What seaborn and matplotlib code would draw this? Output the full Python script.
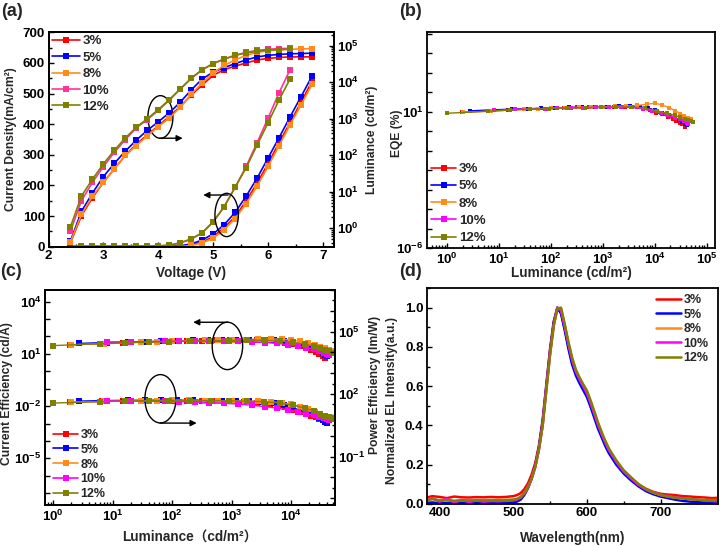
import numpy as np
import matplotlib
matplotlib.use('Agg')
import matplotlib.pyplot as plt
import seaborn as sns
from matplotlib.patches import Ellipse
from matplotlib.lines import Line2D
from matplotlib.ticker import FixedLocator, MultipleLocator, FuncFormatter, LogLocator, NullFormatter, FormatStrFormatter

sns.set_theme(style='ticks')
plt.rcParams['font.family'] = ['Liberation Sans', 'Noto Sans CJK SC', 'DejaVu Sans']
plt.rcParams['font.weight'] = 'bold'
plt.rcParams['axes.labelweight'] = 'bold'
plt.rcParams['mathtext.fontset'] = 'custom'
plt.rcParams['mathtext.rm'] = 'Liberation Sans:bold'
plt.rcParams['mathtext.it'] = 'Liberation Sans:bold'
plt.rcParams['mathtext.bf'] = 'Liberation Sans:bold'
plt.rcParams['mathtext.default'] = 'rm'

# ---------------- data ----------------
dopants = ['3%', '5%', '8%', '10%', '12%']
colors_a = ['#FF0000', '#0000FF', '#FF8C1A', '#FF3399', '#808000']
colors_b = ['#FF0000', '#0000FF', '#FF8C1A', '#FF00FF', '#808000']

volt_long = [2.4, 2.6, 2.8, 3.0, 3.2, 3.4, 3.6, 3.8, 4.0, 4.2, 4.4, 4.6, 4.8, 5.0, 5.2, 5.4, 5.6, 5.8, 6.0, 6.2, 6.4, 6.6, 6.8]
volt_short = [2.4, 2.6, 2.8, 3.0, 3.2, 3.4, 3.6, 3.8, 4.0, 4.2, 4.4, 4.6, 4.8, 5.0, 5.2, 5.4, 5.6, 5.8, 6.0, 6.2, 6.4]

J_3 = [0, 0, 0, 0, 0, 0, 0, 0, 0.5, 1, 2, 6, 15, 33, 62, 98, 150, 208, 272, 340, 405, 472, 540]
J_5 = [0, 0, 0, 0, 0, 0, 0, 0.5, 1, 1.5, 3, 9, 22, 42, 72, 112, 165, 224, 290, 356, 424, 490, 557]
J_8 = [0, 0, 0, 0, 0, 0, 0, 0, 0, 0.5, 1, 4, 12, 28, 55, 92, 140, 198, 262, 330, 398, 463, 530]
J_10 = [1, 1, 1, 1, 1, 1, 1.5, 1.5, 2, 5, 12, 25, 45, 80, 131, 194, 262, 340, 420, 503, 578]
J_12 = [2, 2, 2, 2, 2, 2.5, 2.5, 3, 3, 5, 13, 25, 46, 82, 131, 194, 258, 332, 405, 479, 548]

L_3 = [0.4, 2.2, 6.9, 18, 43, 99, 202, 361, 644, 1150, 2170, 4440, 8390, 15600, 22000, 27700, 33600, 40800, 44900, 47600, 49400, 49400, 49400]
L_5 = [0.45, 2.9, 9.2, 26, 60, 130, 260, 482, 828, 1450, 2850, 6150, 12300, 18900, 25200, 32400, 40800, 49400, 54400, 57700, 60000, 61100, 62300]
L_8 = [0.42, 2.4, 7.6, 18, 43, 99, 184, 340, 608, 1040, 2050, 4700, 9600, 18200, 28800, 40800, 54400, 66000, 72700, 77000, 80000, 81600, 83200]
L_10 = [0.83, 5.7, 18, 49, 120, 270, 563, 947, 1690, 3200, 6530, 12800, 22000, 32400, 43200, 54400, 66000, 74100, 80000, 83200, 84800]
L_12 = [1.1, 7.6, 22, 58, 137, 298, 585, 1000, 1790, 3320, 6530, 12800, 22000, 32400, 43200, 54400, 63500, 70000, 75500, 78500, 80000]

# luminance points for efficiency curves (panels b, c)
lum_3 = [1.9, 6.5, 15, 30, 55, 100, 180, 320, 550, 950, 1600, 2700, 4500, 6000, 8000, 10500, 14000, 18000, 22000, 26000, 30000, 34000, 38000]
lum_5 = [2.7, 8, 18, 35, 65, 120, 220, 400, 700, 1200, 2000, 3300, 5200, 7500, 10000, 14000, 19000, 24000, 29000, 34000, 38000, 41000]
lum_8 = [2.0, 7, 16, 30, 55, 100, 190, 350, 600, 1000, 1700, 2800, 4600, 7000, 10000, 14000, 19000, 25000, 31000, 37000, 43000, 50000]
lum_10 = [8, 20, 40, 75, 130, 240, 420, 750, 1300, 2200, 3600, 5800, 9000, 13000, 18000, 24000, 30000, 36000, 41000, 44000]
lum_12 = [1.0, 6, 16, 40, 90, 200, 450, 900, 1800, 3500, 6500, 11000, 17000, 24000, 31000, 38000, 44000, 50000, 54000]

EQE_3 = [9.3, 11, 12.5, 13.5, 14.5, 15.5, 16, 16.5, 17, 17.5, 18, 18, 17, 14, 11.5, 9, 7.2, 5.5, 4.3, 3.4, 2.7, 2.2, 1.7]
EQE_5 = [11, 12.5, 13.5, 14, 15, 15.5, 16.5, 17, 17.5, 18, 18.5, 18.5, 17.5, 15, 12, 9, 6.8, 5, 3.8, 3, 2.4, 2.1]
EQE_8 = [9.5, 10.5, 12, 13, 14, 15, 16, 16.5, 17, 17.5, 18.5, 19.5, 21, 24, 27, 22, 16, 11, 8, 6, 4.8, 4.0]
EQE_10 = [11.5, 13, 13.5, 14.5, 15, 15.5, 16, 16.5, 17, 17, 16.5, 14, 11, 8.5, 6.5, 5, 4, 3.2, 2.7, 2.4]
EQE_12 = [8.3, 10.5, 12, 13.5, 14.5, 15.5, 16, 16.5, 17, 17.5, 15, 11, 8.3, 6.5, 5.2, 4.3, 3.6, 3.2, 3.0]

CE_3 = [33, 39, 44, 48, 51, 54, 56, 58, 60, 61, 62, 62, 59, 52, 44, 36, 28, 22, 17, 13, 10, 7.8, 6]
CE_5 = [40, 45, 49, 50, 54, 56, 59, 61, 63, 65, 66, 66, 63, 54, 43, 32, 24, 18, 14, 11, 8.6, 7.5]
CE_8 = [34, 38, 43, 47, 50, 54, 58, 59, 61, 63, 66, 70, 72, 70, 62, 52, 42, 33, 26, 21, 17, 14]
CE_10 = [48, 49, 50, 52, 53, 54, 55, 54, 52, 49, 45, 40, 34, 28, 23, 19, 15, 12, 10, 9]
CE_12 = [30, 38, 43, 48, 51, 54, 56, 58, 60, 61, 56, 46, 36, 28, 22, 17, 14, 12, 11]

PE_3 = [40, 45, 48, 49, 49, 49, 48, 47, 46, 44, 42, 39, 35, 28, 23, 18, 14, 11, 9, 7.5, 6.2, 5.4, 4.8]
PE_5 = [46, 49, 50, 50, 51, 50, 50, 49, 48, 47, 45, 42, 38, 31, 24, 17, 12.5, 9.5, 7.2, 5.6, 4.5, 4.0]
PE_8 = [41, 44, 47, 48, 49, 50, 50, 49, 48, 47, 46, 45, 42, 38, 32, 25, 19, 14, 11, 8.5, 7, 6]
PE_10 = [48, 47, 46, 45, 43, 41, 39, 36, 33, 29, 25, 21, 17, 14, 11.5, 9.5, 8, 7, 6.3, 5.9]
PE_12 = [37, 43, 46, 48, 49, 49, 48, 47, 45, 43, 37, 29, 21, 15.5, 11.5, 9, 7.8, 7, 6.6]

wavelength = [380, 390, 400, 410, 420, 430, 440, 450, 460, 470, 480, 490, 500,
              505, 510, 515, 520, 525, 530, 535, 540, 545, 550, 555, 560, 565, 570, 575, 580,
              585, 590, 595, 600, 605, 610, 615, 620, 625, 630,
              640, 650, 660, 670, 680, 690, 700, 710, 720, 730, 740, 750, 760, 770, 780]
EL_3 = [0.030, 0.040, 0.036, 0.030, 0.038, 0.034, 0.033, 0.035, 0.034, 0.036, 0.034, 0.036, 0.040,
        0.045, 0.055, 0.075, 0.105, 0.150, 0.210, 0.300, 0.430, 0.610, 0.790, 0.930, 1.000, 0.970, 0.890, 0.800, 0.720,
        0.665, 0.625, 0.590, 0.555, 0.505, 0.450, 0.395, 0.350, 0.305, 0.265,
        0.210, 0.165, 0.130, 0.100, 0.078, 0.062, 0.052, 0.048, 0.045, 0.040, 0.038, 0.035, 0.033, 0.030, 0.032]
EL_5 = [0.005, 0.008, 0.004, 0.006, 0.005, 0.007, 0.005, 0.006, 0.005, 0.006, 0.005, 0.006, 0.008,
        0.012, 0.022, 0.045, 0.080, 0.130, 0.195, 0.290, 0.420, 0.600, 0.780, 0.925, 1.000, 0.970, 0.885, 0.790, 0.710,
        0.655, 0.615, 0.580, 0.545, 0.495, 0.440, 0.385, 0.340, 0.295, 0.258,
        0.200, 0.155, 0.120, 0.090, 0.066, 0.050, 0.038, 0.030, 0.022, 0.016, 0.012, 0.010, 0.008, 0.006, 0.005]
EL_8 = [0.020, 0.028, 0.018, 0.022, 0.016, 0.020, 0.018, 0.020, 0.019, 0.020, 0.020, 0.021, 0.022,
        0.026, 0.036, 0.056, 0.086, 0.130, 0.190, 0.280, 0.400, 0.580, 0.760, 0.905, 1.000, 0.990, 0.910, 0.820, 0.740,
        0.680, 0.640, 0.605, 0.572, 0.522, 0.468, 0.412, 0.362, 0.318, 0.278,
        0.218, 0.168, 0.133, 0.100, 0.075, 0.058, 0.046, 0.038, 0.032, 0.028, 0.025, 0.022, 0.020, 0.020, 0.020]
EL_10 = [0.010, 0.030, 0.012, 0.025, 0.008, 0.020, 0.010, 0.018, 0.012, 0.015, 0.014, 0.016, 0.018,
         0.022, 0.032, 0.052, 0.082, 0.128, 0.188, 0.278, 0.400, 0.585, 0.765, 0.910, 1.000, 0.985, 0.905, 0.815, 0.735,
         0.675, 0.635, 0.600, 0.565, 0.515, 0.460, 0.405, 0.358, 0.314, 0.274,
         0.215, 0.165, 0.130, 0.098, 0.074, 0.058, 0.047, 0.040, 0.034, 0.030, 0.026, 0.022, 0.018, 0.015, 0.014]
EL_12 = [0.015, 0.025, 0.018, 0.020, 0.015, 0.020, 0.018, 0.020, 0.018, 0.020, 0.020, 0.020, 0.022,
         0.025, 0.035, 0.055, 0.085, 0.130, 0.190, 0.280, 0.400, 0.580, 0.760, 0.910, 0.995, 1.000, 0.915, 0.825, 0.745,
         0.685, 0.645, 0.610, 0.578, 0.528, 0.473, 0.417, 0.367, 0.322, 0.282,
         0.222, 0.172, 0.136, 0.102, 0.076, 0.058, 0.046, 0.039, 0.033, 0.028, 0.025, 0.022, 0.020, 0.020, 0.020]

volts = [volt_long, volt_long, volt_long, volt_short, volt_short]
J_all = [J_3, J_5, J_8, J_10, J_12]
L_all = [L_3, L_5, L_8, L_10, L_12]
lum_all = [lum_3, lum_5, lum_8, lum_10, lum_12]
EQE_all = [EQE_3, EQE_5, EQE_8, EQE_10, EQE_12]
CE_all = [CE_3, CE_5, CE_8, CE_10, CE_12]
PE_all = [PE_3, PE_5, PE_8, PE_10, PE_12]
EL_all = [EL_3, EL_5, EL_8, EL_10, EL_12]

# ---------------- layout ----------------
W, H = 720, 546
fig = plt.figure(figsize=(7.2, 5.46), dpi=100)
fig.patch.set_facecolor('white')

boxes = {'a': (48.5, 32.3, 334, 246.7), 'b': (427, 32, 715, 248),
         'c': (45, 290, 335, 505), 'd': (427, 288, 718, 504)}

def mk(key):
    l, t, r, b = boxes[key]
    return fig.add_axes([l / W, 1 - b / H, (r - l) / W, (b - t) / H])

def fx(key, x):
    l, t, r, b = boxes[key]
    return (x - l) / (r - l)

def fy(key, y):
    l, t, r, b = boxes[key]
    return (b - y) / (b - t)

TFS = 9.5
YFS = 8.7
XFS = 9.8
LW_SP = 1.3

def style(ax):
    for s in ax.spines.values():
        s.set_linewidth(LW_SP)
        s.set_color('black')
        s.set_visible(True)
    ax.tick_params(which='both', direction='in', width=1.0, labelsize=TFS, colors='black', pad=2.5)
    ax.tick_params(which='major', length=3.5)
    ax.tick_params(which='minor', length=2)
    ax.set_facecolor('white')
    ax.grid(False)

def logfmt(show):
    def f(v, pos):
        if v <= 0:
            return ''
        e = int(round(np.log10(v)))
        return r'$10^{%d}$' % e if e in show else ''
    return FuncFormatter(f)

def bold_ticks(ax):
    for lb in ax.get_xticklabels() + ax.get_yticklabels():
        lb.set_fontweight('bold')

def leg(ax, cols, anchor, fs, spacing, marker='s', ms=4, lw=1.2, hl=2.0):
    handles = [Line2D([], [], color=c, lw=lw, marker=marker, markersize=ms, markeredgewidth=0) for c in cols]
    lg = ax.legend(handles, dopants, loc='upper left', bbox_to_anchor=anchor, frameon=False,
                   handlelength=hl, handletextpad=0.2, labelspacing=spacing,
                   borderpad=0, borderaxespad=0, numpoints=1, prop={'weight': 'bold', 'size': fs})
    return lg

ARROW = dict(arrowstyle='-|>', lw=1.0, color='black', mutation_scale=9, shrinkA=0, shrinkB=0)

# ---------------- panel (a) ----------------
axa = mk('a')
axa2 = axa.twinx()
for V, J, c in zip(volts, J_all, colors_a):
    sns.lineplot(x=V, y=J, ax=axa, color=c, marker='s', markersize=4.5, markeredgewidth=0,
                 linewidth=1.2, estimator=None, sort=False, legend=False)
for V, L, c in zip(volts, L_all, colors_a):
    sns.lineplot(x=V, y=L, ax=axa2, color=c, marker='s', markersize=4.5, markeredgewidth=0,
                 linewidth=1.2, estimator=None, sort=False, legend=False)
axa.set_xlim(2, 7.2)
axa.set_ylim(0, 700)
axa2.set_yscale('log')
axa2.set_ylim(10 ** -0.504, 10 ** 5.367)
axa.xaxis.set_major_locator(MultipleLocator(1))
axa.xaxis.set_minor_locator(MultipleLocator(0.5))
axa.yaxis.set_major_locator(MultipleLocator(100))
axa.yaxis.set_minor_locator(MultipleLocator(50))
axa2.yaxis.set_major_locator(FixedLocator(10.0 ** np.arange(0, 6)))
axa2.yaxis.set_major_formatter(logfmt(set(range(0, 6))))
axa2.yaxis.set_minor_locator(LogLocator(base=10, subs=np.arange(2, 10)))
axa2.yaxis.set_minor_formatter(NullFormatter())
style(axa); style(axa2)
axa.tick_params(right=False, which='both')
axa2.tick_params(left=False, which='both')
axa.set_xlabel('Voltage (V)', fontsize=XFS, fontweight='bold')
axa.set_ylabel('Current Density(mA/cm²)', fontsize=YFS, fontweight='bold')
axa2.set_ylabel('Luminance (cd/m²)', fontsize=YFS, fontweight='bold')
axa.yaxis.set_label_coords(fx('a', 17), 0.5)
axa2.yaxis.set_label_coords(fx('a', 366), 0.5)
axa.xaxis.set_label_coords(0.5, fy('a', 266))
leg(axa2, colors_a, (fx('a', 52), fy('a', 35)), 9.5, 0.32, ms=4.5, hl=2.1)
axa2.add_patch(Ellipse((0.392, 0.605), 0.0876, 0.199, transform=axa2.transAxes, fill=False, lw=1.0, ec='black'))
axa2.add_patch(Ellipse((0.624, 0.148), 0.082, 0.202, transform=axa2.transAxes, fill=False, lw=1.0, ec='black'))
axa2.annotate('', xy=(0.47, 0.506), xytext=(0.39, 0.506), xycoords='axes fraction', arrowprops=ARROW)
axa2.annotate('', xy=(0.542, 0.241), xytext=(0.629, 0.241), xycoords='axes fraction', arrowprops=ARROW)

# ---------------- panel (b) ----------------
axb = mk('b')
for Lm, E, c in zip(lum_all, EQE_all, colors_b):
    sns.lineplot(x=Lm, y=E, ax=axb, color=c, marker='s', markersize=3.5, markeredgewidth=0,
                 linewidth=1.0, estimator=None, sort=False, legend=False)
axb.set_xscale('log'); axb.set_yscale('log')
axb.set_xlim(10 ** -0.39, 10 ** 5.16)
axb.set_ylim(1e-6, 10 ** 5.09)
axb.xaxis.set_major_locator(FixedLocator(10.0 ** np.arange(0, 6)))
axb.xaxis.set_major_formatter(logfmt(set(range(0, 6))))
axb.xaxis.set_minor_locator(LogLocator(base=10, subs=np.arange(2, 10)))
axb.xaxis.set_minor_formatter(NullFormatter())
axb.yaxis.set_major_locator(FixedLocator(10.0 ** np.arange(-6, 6)))
axb.yaxis.set_major_formatter(logfmt({1, -6}))
axb.yaxis.set_minor_locator(FixedLocator([]))
style(axb)
axb.set_xlabel('Luminance (cd/m²)', fontsize=XFS, fontweight='bold')
axb.set_ylabel('EQE (%)', fontsize=YFS, fontweight='bold')
axb.yaxis.set_label_coords(fx('b', 403), 0.53)
axb.xaxis.set_label_coords(0.5, fy('b', 266))
leg(axb, colors_b, (fx('b', 431), fy('b', 163)), 9.5, 0.38, ms=4, lw=1.2, hl=1.9)

# ---------------- panel (c) ----------------
axc = mk('c')
axc2 = axc.twinx()
for Lm, C, c in zip(lum_all, CE_all, colors_b):
    sns.lineplot(x=Lm, y=C, ax=axc, color=c, marker='s', markersize=4, markeredgewidth=0,
                 linewidth=1.0, estimator=None, sort=False, legend=False)
for Lm, P, c in zip(lum_all, PE_all, colors_b):
    sns.lineplot(x=Lm, y=P, ax=axc2, color=c, marker='s', markersize=4, markeredgewidth=0,
                 linewidth=1.0, estimator=None, sort=False, legend=False)
axc.set_xscale('log'); axc.set_yscale('log'); axc2.set_yscale('log')
axc.set_xlim(10 ** -0.14, 10 ** 4.74)
axc.set_ylim(10 ** -7.68, 10 ** 4.67)
axc2.set_ylim(10 ** -3.33, 10 ** 7.0)
axc.xaxis.set_major_locator(FixedLocator(10.0 ** np.arange(0, 5)))
axc.xaxis.set_major_formatter(logfmt(set(range(0, 5))))
axc.xaxis.set_minor_locator(LogLocator(base=10, subs=np.arange(2, 10)))
axc.xaxis.set_minor_formatter(NullFormatter())
axc.yaxis.set_major_locator(FixedLocator(10.0 ** np.arange(-7, 5)))
axc.yaxis.set_major_formatter(logfmt({4, 1, -2, -5}))
axc.yaxis.set_minor_locator(FixedLocator([]))
axc2.yaxis.set_major_locator(FixedLocator(10.0 ** np.arange(-3, 8)))
axc2.yaxis.set_major_formatter(logfmt({5, 2, -1}))
axc2.yaxis.set_minor_locator(FixedLocator(10.0 ** (np.arange(-3, 7) + 0.5)))
axc2.yaxis.set_minor_formatter(NullFormatter())
style(axc); style(axc2)
axc.tick_params(right=False, which='both')
axc2.tick_params(left=False, which='both')
axc.set_xlabel('Luminance（cd/m²）', fontsize=XFS, fontweight='bold')
axc.set_ylabel('Current Efficiency (cd/A)', fontsize=YFS, fontweight='bold')
axc2.set_ylabel('Power Efficiency (lm/W)', fontsize=YFS, fontweight='bold')
axc.yaxis.set_label_coords(fx('c', 13.5), 0.52)
axc2.yaxis.set_label_coords(fx('c', 369), 0.56)
axc.xaxis.set_label_coords(0.5, fy('c', 531))
leg(axc2, colors_b, (fx('c', 53), fy('c', 429)), 9, 0.22, ms=4, lw=1.2, hl=2.0)
axc2.add_patch(Ellipse((0.629, 0.740), 0.105, 0.2205, transform=axc2.transAxes, fill=False, lw=1.0, ec='black'))
axc2.add_patch(Ellipse((0.398, 0.494), 0.107, 0.225, transform=axc2.transAxes, fill=False, lw=1.0, ec='black'))
axc2.annotate('', xy=(0.511, 0.850), xytext=(0.630, 0.850), xycoords='axes fraction', arrowprops=ARROW)
axc2.annotate('', xy=(0.523, 0.381), xytext=(0.397, 0.381), xycoords='axes fraction', arrowprops=ARROW)

# ---------------- panel (d) ----------------
axd = mk('d')
for EL, c in zip(EL_all, colors_b):
    sns.lineplot(x=wavelength, y=EL, ax=axd, color=c, linewidth=1.8, estimator=None, sort=False, legend=False)
axd.set_xlim(383, 778)
axd.set_ylim(0, 1.1)
axd.xaxis.set_major_locator(MultipleLocator(100))
axd.xaxis.set_minor_locator(MultipleLocator(50))
axd.yaxis.set_major_locator(MultipleLocator(0.2))
axd.yaxis.set_minor_locator(MultipleLocator(0.1))
axd.yaxis.set_major_formatter(FormatStrFormatter('%.1f'))
style(axd)
axd.set_xlabel('Wavelength(nm)', fontsize=XFS, fontweight='bold')
axd.set_ylabel('Normalized EL Intensity(a.u.)', fontsize=YFS, fontweight='bold')
axd.yaxis.set_label_coords(fx('d', 398), 0.477)
axd.xaxis.set_label_coords(0.5, fy('d', 531))
leg(axd, colors_b, (fx('d', 656), fy('d', 294)), 9, 0.2, marker=None, lw=1.8, hl=2.0)

for ax in [axa, axa2, axb, axc, axc2, axd]:
    bold_ticks(ax)

# panel letters
for lab, (x, y) in {'(a)': (12, 12), '(b)': (410, 11), '(c)': (11, 272), '(d)': (410, 271)}.items():
    fig.text(x / W, 1 - y / H, lab, ha='center', va='center', fontsize=13, fontweight='bold')

fig.savefig('out.png', dpi=100, facecolor='white')
